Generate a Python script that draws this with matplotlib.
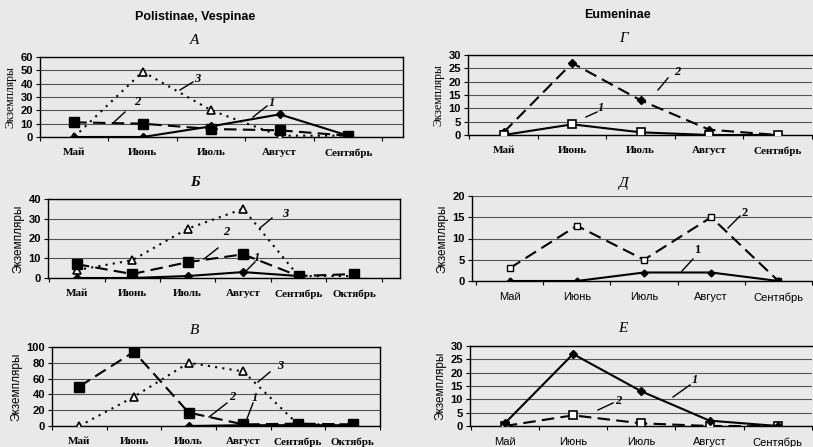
import matplotlib.pyplot as plt
import numpy as np
from matplotlib.lines import Line2D

nan = np.nan
months5 = ["Май", "Июнь", "Июль", "Август", "Сентябрь"]
months6 = ["Май", "Июнь", "Июль", "Август", "Сентябрь", "Октябрь"]

# Polistinae, Vespinae
a_1 = [0, 0, 8, 17, 1]
a_2 = [11, 10, 6, 5, 1]
a_3 = [0, 49, 20, 1, 1]

b_1 = [0, 0, 1, 3, 1, nan]
b_2 = [7, 2, 8, 12, 1, 2]
b_3 = [4, 9, 25, 35, 1, 1]

v_1 = [nan, nan, 0, 1, 1, 1]
v_2 = [50, 94, 17, 2, 3, 2]
v_3 = [0, 37, 80, 69, 2, 2]

# Eumeninae
g_1 = [0, 4, 1, 0, 0]
g_2 = [1, 27, 13, 2, 0]

d_1 = [0, 0, 2, 2, 0]
d_2 = [3, 13, 5, 15, 0]

e_1 = [1, 27, 13, 2, 0]
e_2 = [0, 4, 1, 0, 0]

W, H = 813, 447
BG = "#e9e9e9"
fig = plt.figure(figsize=(W / 100, H / 100), dpi=100, facecolor=BG)

serif = "Liberation Serif"
sans = "Liberation Sans"


def px_axes(l, t, r, b):
    return fig.add_axes([l / W, (H - b) / H, (r - l) / W, (b - t) / H])


def fx(x, y):
    return x / W, (H - y) / H


def setup(ax, cats, xlim, ymax, ystep, tickfont, ylabfont, box=True):
    ax.set_facecolor(BG)
    ax.set_xlim(*xlim)
    ax.set_ylim(0, ymax)
    ax.set_yticks(np.arange(0, ymax + 0.1, ystep))
    ax.yaxis.grid(True, color="#555555", lw=0.8)
    ax.set_axisbelow(True)
    ax.set_xticks(range(len(cats)))
    ax.set_xticklabels(cats, fontfamily=tickfont, fontweight="bold", fontsize=8)
    ax.set_xticks(np.arange(-0.5, len(cats) - 0.4, 1), minor=True)
    ax.tick_params(axis="x", which="major", length=0, pad=8)
    ax.tick_params(axis="x", which="minor", length=3, width=0.8, direction="out")
    ax.tick_params(axis="y", length=3, width=0.8, pad=2, labelsize=8)
    for lab in ax.get_yticklabels():
        lab.set_fontfamily(sans)
        lab.set_fontweight("bold")
    ax.set_ylabel("Экземпляры", fontfamily=ylabfont, fontsize=8.5, labelpad=3)
    for s in ax.spines.values():
        s.set_color("black")
        s.set_linewidth(1.0)
    if not box:
        ax.spines["top"].set_visible(False)
        ax.spines["right"].set_visible(False)


def tag(num, tx, ty, x0, y0, x1, y1, family=serif, style="italic"):
    fig.text(*fx(tx, ty), num, fontsize=9, fontstyle=style, fontweight="bold",
             fontfamily=family, ha="center", va="center")
    fig.add_artist(Line2D([x0 / W, x1 / W], [(H - y0) / H, (H - y1) / H],
                          color="black", lw=1.0))


solid = dict(color="black", lw=1.5, ls="-")
dash = dict(color="black", lw=1.5, ls=(0, (6, 3)))
dot = dict(color="black", lw=1.5, ls=(0, (1, 2.5)))
dia = dict(marker="D", ms=4, mfc="black", mec="black")
sq = dict(marker="s", ms=6.5, mfc="black", mec="black")
tri = dict(marker="^", ms=5.5, mfc="white", mec="black", mew=1.2)
osq = dict(marker="s", ms=6, mfc="white", mec="black", mew=1.2)
osq_s = dict(marker="s", ms=4.5, mfc="white", mec="black", mew=1.0)

x5 = np.arange(5)
x6 = np.arange(6)

# A
ax = px_axes(40, 57, 403, 137)
setup(ax, months5, (-0.5, 4.8), 60, 10, serif, serif)
ax.plot(x5, a_3, **dot, **tri, zorder=3)
ax.plot(x5, a_2, **dash, **sq, zorder=4)
ax.plot(x5, a_1, **solid, **dia, zorder=5)
fig.text(*fx(195, 17), "Polistinae, Vespinae", fontfamily=sans, fontweight="bold",
         fontsize=9, ha="center", va="center")
fig.text(*fx(195, 40), "А", fontfamily=serif, fontstyle="italic", fontsize=11,
         ha="center", va="center")
tag("3", 197, 79, 180, 90, 193, 82)
tag("2", 137, 102, 113, 123, 125, 112)
tag("1", 272, 103, 253, 117, 267, 106)

# Б
ax = px_axes(48, 199, 400, 278)
setup(ax, months6, (-0.52, 5.83), 40, 10, serif, sans)
ax.plot(x6, b_3, **dot, **tri, zorder=3)
ax.plot(x6, b_2, **dash, **sq, zorder=4)
ax.plot(x6, b_1, **solid, **dia, zorder=5)
fig.text(*fx(195, 183), "Б", fontfamily=serif, fontstyle="italic", fontweight="bold",
         fontsize=11, ha="center", va="center")
tag("3", 285, 214, 260, 228, 272, 218)
tag("2", 226, 232, 204, 259, 218, 248)
tag("1", 257, 258, 245, 272, 255, 262)

# В
ax = px_axes(52, 347, 380, 426)
setup(ax, months6, (-0.47, 5.47), 100, 20, serif, sans)
ax.plot(x6, v_3, **dot, **tri, zorder=3)
ax.plot(x6, v_2, **dash, **sq, zorder=4)
ax.plot(x6, v_1, **solid, **dia, zorder=5)
fig.text(*fx(195, 330), "В", fontfamily=serif, fontstyle="italic", fontsize=11,
         ha="center", va="center")
tag("3", 280, 366, 258, 382, 270, 372)
tag("2", 232, 397, 209, 417, 227, 403)
tag("1", 255, 398, 245, 424, 253, 403)

# Г
ax = px_axes(468, 55, 812, 135)
setup(ax, months5, (-0.52, 4.48), 30, 5, serif, serif)
ax.spines["right"].set_visible(False)
ax.plot(x5, g_2, **dash, **dia, zorder=4)
ax.plot(x5, g_1, **solid, **osq, zorder=5)
fig.text(*fx(617, 15), "Eumeninae", fontfamily=sans, fontweight="bold",
         fontsize=9, ha="center", va="center")
fig.text(*fx(623, 38), "Г", fontfamily=serif, fontstyle="italic", fontsize=11,
         ha="center", va="center")
tag("2", 677, 72, 658, 90, 668, 78)
tag("1", 601, 108, 586, 117, 597, 112)

# Д
ax = px_axes(472, 196, 812, 281)
setup(ax, months5, (-0.56, 4.46), 20, 5, sans, sans, box=False)
for lab in ax.get_xticklabels():
    lab.set_fontweight("normal")
ax.plot(x5, d_2, **dash, **osq_s, zorder=4)
ax.plot(x5, d_1, **solid, **dict(dia, ms=3.5), zorder=5)
fig.text(*fx(623, 183), "Д", fontfamily=serif, fontstyle="italic", fontsize=11,
         ha="center", va="center")
tag("2", 745, 213, 728, 228, 740, 216, style="normal")
tag("1", 697, 250, 682, 271, 693, 259, style="normal")

# Е
ax = px_axes(470, 346, 812, 426)
setup(ax, months5, (-0.51, 4.46), 30, 5, sans, sans)
ax.spines["right"].set_visible(False)
for lab in ax.get_xticklabels():
    lab.set_fontweight("normal")
ax.plot(x5, e_2, **dash, **osq, zorder=4)
ax.plot(x5, e_1, **solid, **dia, zorder=5)
fig.text(*fx(623, 328), "Е", fontfamily=serif, fontstyle="italic", fontsize=11,
         ha="center", va="center")
tag("1", 695, 380, 673, 397, 690, 385)
tag("2", 618, 401, 598, 410, 613, 403)

fig.savefig("out.png", dpi=100, facecolor=BG)
